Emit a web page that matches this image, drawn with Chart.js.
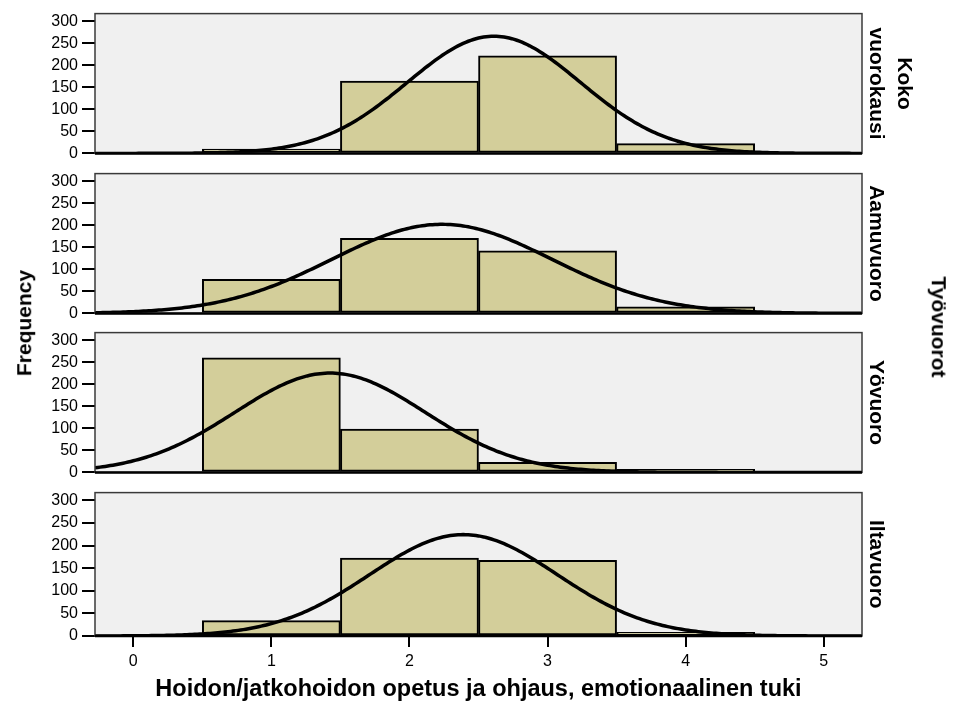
<!DOCTYPE html>
<html>
<head>
<meta charset="utf-8">
<script src="https://cdn.jsdelivr.net/npm/chart.js@4/dist/chart.umd.min.js"></script>
<style>
  html, body { margin: 0; padding: 0; background: #fff; }
  #wrap { position: relative; width: 961px; height: 706px; overflow: hidden;
          font-family: Arial, "Liberation Sans", sans-serif; }
  #wrap canvas { position: absolute; left: 0; }
  .vlab { position: absolute; left: 0; top: 0; transform-origin: 0 0;
          font-weight: bold; font-size: 21px; line-height: 1; white-space: nowrap; color: #000; }
</style>
</head>
<body>
<div id="wrap">
  <canvas id="panel0"></canvas>
  <canvas id="panel1"></canvas>
  <canvas id="panel2"></canvas>
  <canvas id="panel3"></canvas>
  <div class="vlab" id="yTitle"></div>
  <div class="vlab" id="groupTitle"></div>
</div>
<script>
// Histogram bins (score values) and frequencies per shift type
const binCenters = [1, 2, 3, 4];
const kokoVuorokausiCounts = [10, 164, 221, 22];
const aamuvuoroCounts = [77, 170, 142, 15];
const yovuoroCounts = [260, 98, 23, 7];
const iltavuoroCounts = [34, 172, 167, 8];

// Panel (shift) labels, one per row of the panel grid
const shiftLabels = [['Koko', 'vuorokausi'], ['Aamuvuoro'], ['Yövuoro'], ['Iltavuoro']];

// Axis ticks and titles
const yTickValues = [0, 50, 100, 150, 200, 250, 300];
const xTickValues = [0, 1, 2, 3, 4, 5];
const xTickLabels = ['0', '1', '2', '3', '4', '5'];
const xTitleText = 'Hoidon/jatkohoidon opetus ja ohjaus, emotionaalinen tuki';
const yTitleText = 'Frequency';
const groupTitleText = 'Työvuorot';

const panelCounts = [kokoVuorokausiCounts, aamuvuoroCounts, yovuoroCounts, iltavuoroCounts];

const FONT = 'Arial, "Liberation Sans", sans-serif';
const X_MIN = -0.277, X_MAX = 5.277, Y_MAX = 317;
const BIN_WIDTH = 1;
const PANEL_TOPS = [12, 172, 331, 491];
const PLOT_H = 145, PAD_TOP = 12;
const BAR_FILL = '#d3ce9a';

// Fitted normal curve (mean and SD of the binned scores), scaled to counts
function normalCurve(counts) {
  const n = counts.reduce((a, b) => a + b, 0);
  const mean = counts.reduce((s, c, i) => s + c * binCenters[i], 0) / n;
  const v = counts.reduce((s, c, i) => s + c * (binCenters[i] - mean) ** 2, 0) / (n - 1);
  const sd = Math.sqrt(v);
  const k = n * BIN_WIDTH / (sd * Math.sqrt(2 * Math.PI));
  const pts = [];
  const steps = 300;
  for (let j = 0; j <= steps; j++) {
    const x = X_MIN + (X_MAX - X_MIN) * j / steps;
    pts.push({ x, y: k * Math.exp(-0.5 * ((x - mean) / sd) ** 2) });
  }
  return pts;
}

// Grey plot background and frame
const panelFrame = {
  id: 'panelFrame',
  beforeDraw(chart) {
    const { ctx, chartArea: a } = chart;
    ctx.save();
    ctx.fillStyle = '#f0f0f0';
    ctx.fillRect(a.left, a.top, a.right - a.left, a.bottom - a.top);
    ctx.restore();
  },
  afterDatasetsDraw(chart) {
    const { ctx, chartArea: a } = chart;
    ctx.save();
    ctx.strokeStyle = '#3a3a3a';
    ctx.lineWidth = 1.5;
    ctx.strokeRect(a.left, a.top, a.right - a.left, a.bottom - a.top);
    ctx.beginPath();
    ctx.strokeStyle = '#000';
    ctx.lineWidth = 2.5;
    ctx.moveTo(a.left, a.bottom);
    ctx.lineTo(a.right, a.bottom);
    ctx.stroke();
    ctx.restore();
  }
};

// Rotated shift label at the right edge of each panel
const stripLabel = {
  id: 'stripLabel',
  afterDraw(chart, args, opts) {
    const { ctx, chartArea: a } = chart;
    const lines = opts.lines || [];
    const cy = (a.top + a.bottom) / 2;
    ctx.save();
    ctx.font = 'bold 21px ' + FONT;
    ctx.fillStyle = '#000';
    ctx.textAlign = 'center';
    ctx.textBaseline = 'alphabetic';
    lines.forEach((t, i) => {
      const bx = a.right + 8 + (lines.length - 1 - i) * 28;
      ctx.save();
      ctx.translate(bx, cy);
      ctx.rotate(Math.PI / 2);
      ctx.fillText(t, 0, 0);
      ctx.restore();
    });
    ctx.restore();
  }
};

panelCounts.forEach((counts, idx) => {
  const isLast = idx === panelCounts.length - 1;
  const canvas = document.getElementById('panel' + idx);
  const top = PANEL_TOPS[idx] - PAD_TOP;
  const h = isLast ? 706 - top : PLOT_H + PAD_TOP + 10;
  canvas.width = 961;
  canvas.height = h;
  canvas.style.top = top + 'px';
  canvas.style.width = '961px';
  canvas.style.height = h + 'px';

  new Chart(canvas, {
    data: {
      datasets: [
        {
          type: 'line',
          order: 0,
          data: normalCurve(counts),
          borderColor: '#000',
          borderWidth: 3.5,
          pointRadius: 0,
          tension: 0,
          fill: false
        },
        {
          type: 'bar',
          order: 1,
          data: binCenters.map((x, i) => ({ x, y: counts[i] })),
          backgroundColor: BAR_FILL,
          borderColor: '#000',
          borderWidth: 2,
          borderSkipped: false,
          barPercentage: 1,
          categoryPercentage: 1
        }
      ]
    },
    options: {
      responsive: false,
      maintainAspectRatio: false,
      animation: false,
      devicePixelRatio: 1,
      layout: { padding: { top: PAD_TOP, right: 99, left: 0, bottom: isLast ? 0 : 10 } },
      plugins: {
        legend: { display: false },
        tooltip: { enabled: false },
        stripLabel: { lines: shiftLabels[idx] }
      },
      scales: {
        x: {
          type: 'linear',
          min: X_MIN,
          max: X_MAX,
          offset: false,
          display: isLast,
          afterBuildTicks: s => { s.ticks = xTickValues.map(v => ({ value: v })); },
          afterFit: s => { if (isLast) s.height = 70; },
          grid: { offset: false, drawOnChartArea: false, drawTicks: true, tickLength: 11, color: '#000', lineWidth: 2 },
          border: { display: false },
          ticks: {
            autoSkip: false, maxRotation: 0, padding: 5, color: '#000',
            font: { family: FONT, size: 16 },
            callback: (v, i) => xTickLabels[i]
          },
          title: {
            display: true, text: xTitleText, color: '#000',
            font: { family: FONT, size: 23.5, weight: 'bold' },
            padding: { top: 0, bottom: 2 }
          }
        },
        y: {
          min: 0,
          max: Y_MAX,
          afterBuildTicks: s => { s.ticks = yTickValues.map(v => ({ value: v })); },
          afterFit: s => { s.width = 95; },
          grid: { drawOnChartArea: false, drawTicks: true, tickLength: 13, color: '#000', lineWidth: 2 },
          border: { display: false },
          ticks: { padding: 4, color: '#000', font: { family: FONT, size: 16 } }
        }
      }
    },
    plugins: [panelFrame, stripLabel]
  });
});

// Shared rotated titles
const yT = document.getElementById('yTitle');
yT.textContent = yTitleText;
yT.style.transform = 'translate(31px, 323px) rotate(-90deg) translate(-50%, -0.8465em)';
const gT = document.getElementById('groupTitle');
gT.textContent = groupTitleText;
gT.style.transform = 'translate(932px, 327px) rotate(90deg) translate(-50%, -0.8465em)';
</script>
</body>
</html>
